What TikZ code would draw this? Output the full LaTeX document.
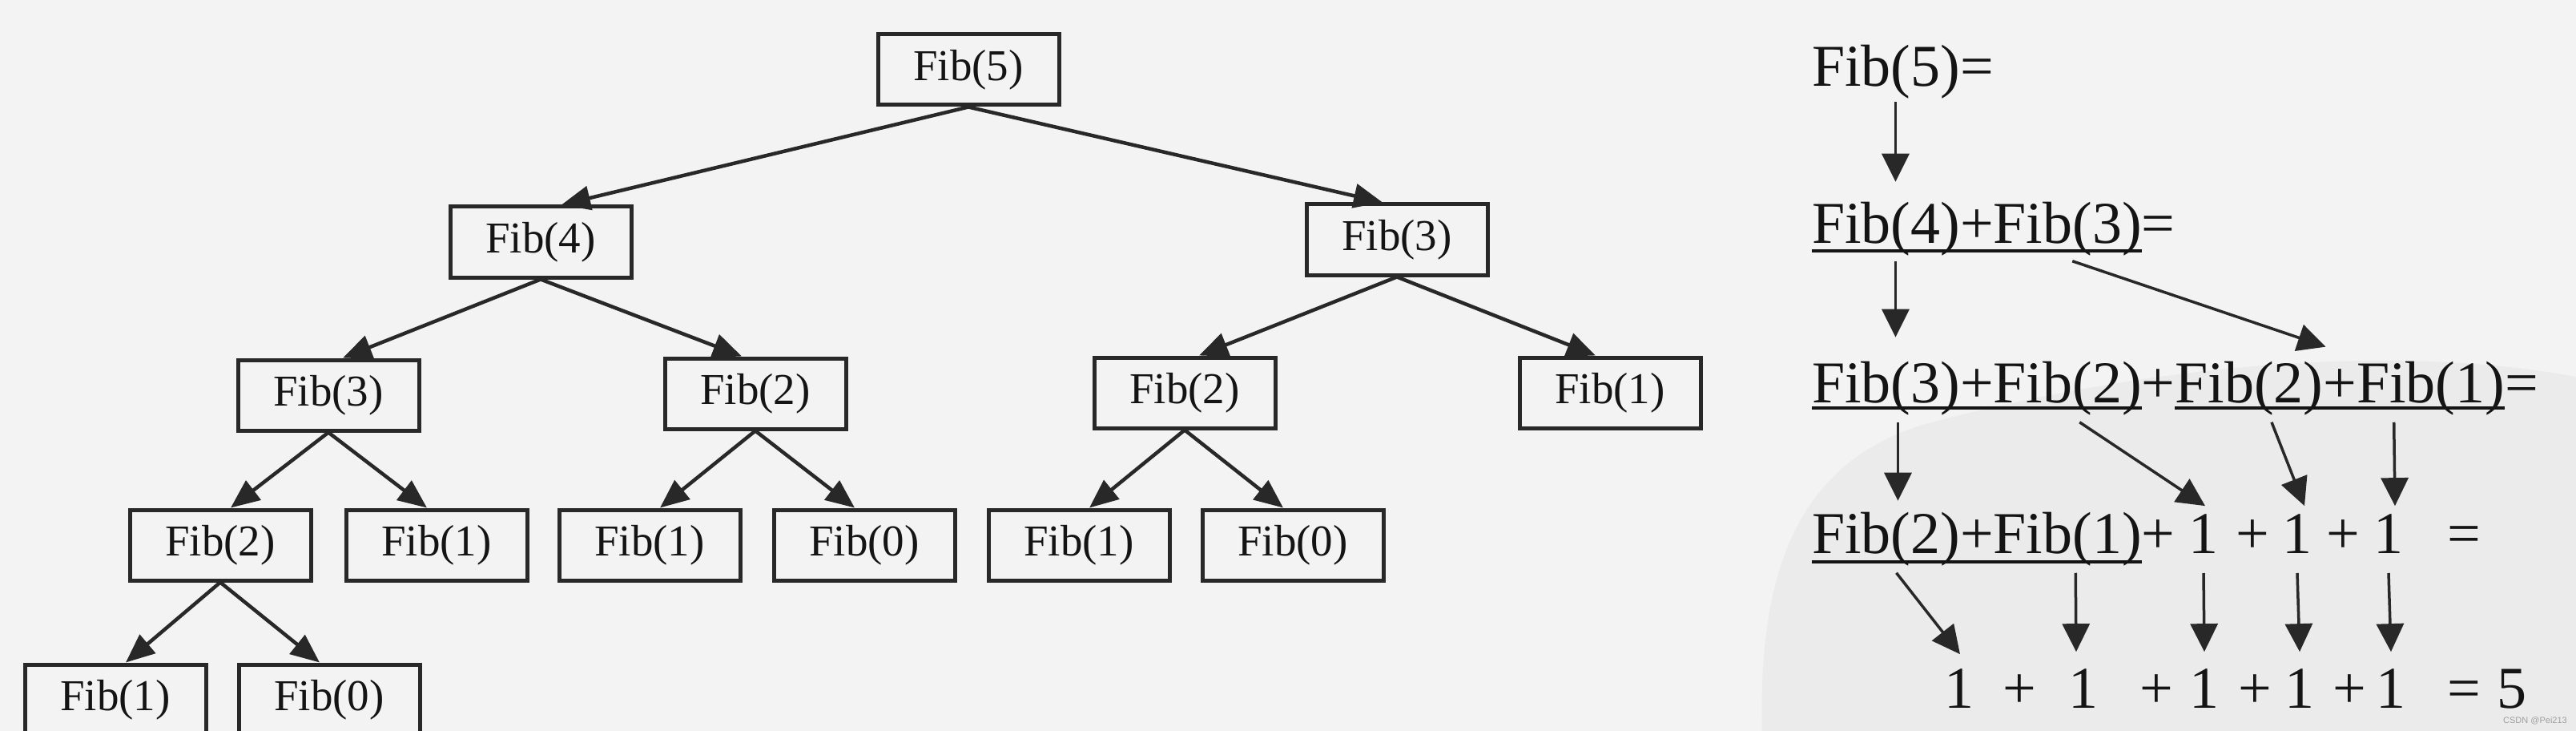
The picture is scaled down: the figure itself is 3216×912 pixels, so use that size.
\documentclass[tikz,border=0pt]{standalone}
\usepackage{fontspec}
\setmainfont{Liberation Serif}
\newfontfamily\wmfont{Liberation Sans}
\usetikzlibrary{arrows.meta,calc}
\definecolor{bg}{RGB}{243,243,243}
\definecolor{ink}{RGB}{20,20,20}
\definecolor{linec}{RGB}{40,40,40}
\definecolor{blob}{RGB}{235,235,235}
\tikzset{
  box/.style={draw=linec, line width=5pt, minimum width=226pt, minimum height=88pt,
    inner sep=0pt, text=ink, font=\fontsize{55}{60}\selectfont},
  tarr/.style={draw=linec, line width=4.5pt, -{Triangle[length=36pt,width=30pt]}},
  rt/.style={inner sep=0pt, outer sep=0pt, text=ink, font=\fontsize{74}{80}\selectfont, anchor=base west},
  rc/.style={rt, anchor=base},
  rarr/.style={draw=linec, line width=3.5pt, -{Triangle[length=35pt,width=34pt]}},
  ul/.style={draw=ink, line width=4pt},
}
\begin{document}
\begin{tikzpicture}[x=1pt,y=-1pt]
\fill[bg] (0,0) rectangle (3216,912);
\useasboundingbox (0,0) rectangle (3216,912);
% faint watermark blob
\fill[blob] (2200,912) .. controls (2195,720) and (2240,580) .. (2400,530)
  .. controls (2700,450) and (3000,430) .. (3216,470) -- (3216,912) -- cycle;

% ---------- tree ----------
\node[box] (n5) at (1209,87) {Fib(5)};
\node[box] (n4) at (675,302) {Fib(4)};
\node[box] (n3r) at (1744,299) {Fib(3)};
\node[box] (n3l) at (410,493) {Fib(3)};
\node[box] (n2m) at (943,491) {Fib(2)};
\node[box] (n2r) at (1479,490) {Fib(2)};
\node[box] (n1r) at (2010,490) {Fib(1)};
\node[box] (n2ll) at (275,680) {Fib(2)};
\node[box] (n1a) at (545,680) {Fib(1)};
\node[box] (n1b) at (811,680) {Fib(1)};
\node[box] (n0a) at (1079,680) {Fib(0)};
\node[box] (n1c) at (1347,680) {Fib(1)};
\node[box] (n0b) at (1614,680) {Fib(0)};
\node[box] (n1d) at (144,873) {Fib(1)};
\node[box] (n0c) at (411,873) {Fib(0)};

\draw[tarr] (n5.south) -- ([xshift=26pt]n4.north);
\draw[tarr] (n5.south) -- ([xshift=-18pt]n3r.north);
\draw[tarr] (n4.south) -- ([xshift=18pt]n3l.north);
\draw[tarr] (n4.south) -- ([xshift=-17pt]n2m.north);
\draw[tarr] (n3r.south) -- ([xshift=18pt]n2r.north);
\draw[tarr] (n3r.south) -- ([xshift=-18pt]n1r.north);
\draw[tarr] (n3l.south) -- ([xshift=13pt]n2ll.north);
\draw[tarr] (n3l.south) -- ([xshift=-12pt]n1a.north);
\draw[tarr] (n2m.south) -- ([xshift=13pt]n1b.north);
\draw[tarr] (n2m.south) -- ([xshift=-12pt]n0a.north);
\draw[tarr] (n2r.south) -- ([xshift=13pt]n1c.north);
\draw[tarr] (n2r.south) -- ([xshift=-12pt]n0b.north);
\draw[tarr] (n2ll.south) -- ([xshift=13pt]n1d.north);
\draw[tarr] (n2ll.south) -- ([xshift=-12pt]n0c.north);

% ---------- right side ----------
% line 1
\node[rt] (a5) at (2262,108) {Fib(5)};
\node[rt] (a5e) at (a5.base east) {=};
% line 2
\node[rt] (b4) at (2262,303) {Fib(4)};
\node[rt] (b4p) at (b4.base east) {+};
\node[rt] (b3) at (b4p.base east) {Fib(3)};
\node[rt] (b3e) at (b3.base east) {=};
\draw[ul] ([yshift=-10pt]b4.base west) -- ([yshift=-10pt]b3.base east);
% line 3
\node[rt] (c3a) at (2262,502) {Fib(3)};
\node[rt] (c3ap) at (c3a.base east) {+};
\node[rt] (c2a) at (c3ap.base east) {Fib(2)};
\node[rt] (c2ap) at (c2a.base east) {+};
\node[rt] (c2b) at (c2ap.base east) {Fib(2)};
\node[rt] (c2bp) at (c2b.base east) {+};
\node[rt] (c1b) at (c2bp.base east) {Fib(1)};
\node[rt] (c1be) at (c1b.base east) {=};
\draw[ul] ([yshift=-7pt]c3a.base west) -- ([yshift=-7pt]c2a.base east);
\draw[ul] ([yshift=-7pt]c2b.base west) -- ([yshift=-7pt]c1b.base east);
% line 4
\node[rt] (d2) at (2262,690) {Fib(2)};
\node[rt] (d2p) at (d2.base east) {+};
\node[rt] (d1) at (d2p.base east) {Fib(1)};
\node[rt] (d1p) at (d1.base east) {+};
\draw[ul] ([yshift=-11pt]d2.base west) -- ([yshift=-11pt]d1.base east);
\node[rc] (d1a) at (2751,690) {1};
\node[rc] (dpa) at (2812,690) {+};
\node[rc] (d1b) at (2868,690) {1};
\node[rc] (dpb) at (2925,690) {+};
\node[rc] (d1c) at (2982,690) {1};
\node[rc] (deq) at (3076,690) {=};
% line 5
\node[rc] (e1a) at (2446,883) {1};
\node[rc] (ep1) at (2521,883) {+};
\node[rc] (e1b) at (2601,883) {1};
\node[rc] (ep2) at (2692,883) {+};
\node[rc] (e1c) at (2752,883) {1};
\node[rc] (ep3) at (2815,883) {+};
\node[rc] (e1d) at (2871,883) {1};
\node[rc] (ep4) at (2933,883) {+};
\node[rc] (e1e) at (2985,883) {1};
\node[rc] (eeq) at (3076,883) {=};
\node[rc] (e5) at (3136,883) {5};

% arrows right side
\draw[rarr] ([xshift=12pt,yshift=-3pt]a5.south) -- ([xshift=12pt,yshift=25pt]b4.north);
\draw[rarr] ([xshift=12pt,yshift=-7pt]b4.south) -- ([xshift=12pt,yshift=30pt]c3a.north);
\draw[rarr] ([xshift=6pt,yshift=-7pt]b3.south) -- ([xshift=3pt,yshift=18pt]c2b.north east);
\draw[rarr] ([xshift=15pt,yshift=-9pt]c3a.south) -- ([xshift=15pt,yshift=14pt]d2.north);
\draw[rarr] ([xshift=15pt,yshift=-9pt]c2a.south) -- ([xshift=2pt,yshift=10pt]d1a.north);
\draw[rarr] ([xshift=28pt,yshift=-9pt]c2b.south) -- ([xshift=9pt,yshift=10pt]d1b.north);
\draw[rarr] ([xshift=-46pt,yshift=-9pt]c1b.south) -- ([xshift=8pt,yshift=10pt]d1c.north);
\draw[rarr] ([xshift=13pt,yshift=-9pt]d2.south) -- ([xshift=1pt,yshift=18pt]e1a.north);
\draw[rarr] ([xshift=10pt,yshift=-9pt]d1.south) -- ([xshift=-9pt,yshift=21pt]e1b.north);
\draw[rarr] ([yshift=-25pt]d1a.south) -- ([yshift=21pt]e1c.north);
\draw[rarr] ([yshift=-25pt]d1b.south) -- ([yshift=21pt]e1d.north);
\draw[rarr] ([yshift=-25pt]d1c.south) -- ([yshift=21pt]e1e.north);

% watermark text
\node[text=gray!75, font=\wmfont\fontsize{11}{12}\selectfont, anchor=east, inner sep=0pt] (wm) at (3205,899) {CSDN @Pei213};
\end{tikzpicture}
\end{document}
